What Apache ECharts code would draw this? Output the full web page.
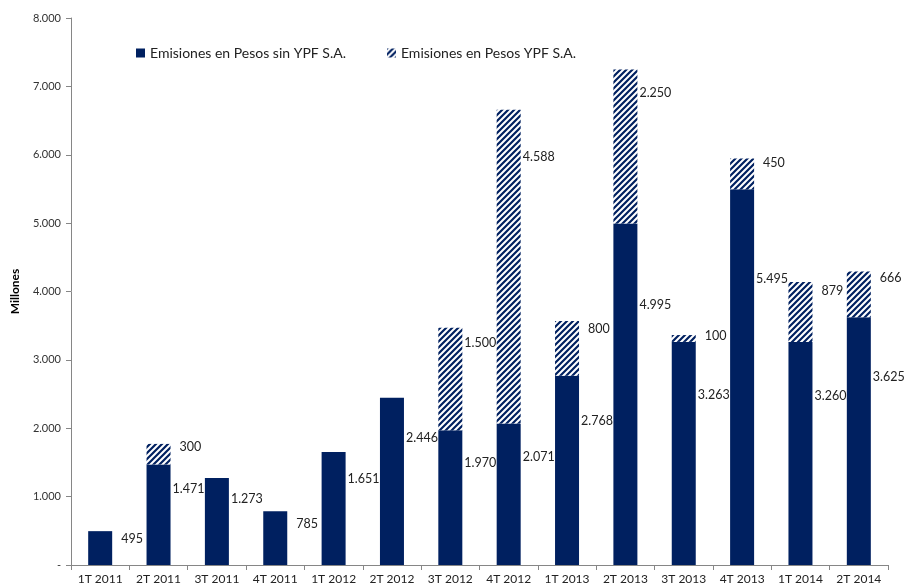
<!DOCTYPE html>
<html><head><meta charset="utf-8">
<script src="https://cdn.jsdelivr.net/npm/echarts@6/dist/echarts.min.js"></script>
<style>html,body{margin:0;padding:0;background:#fff}#c{width:917px;height:587px}</style>
</head><body><div id="c"></div>
<script>
var categories = ['1T 2011','2T 2011','3T 2011','4T 2011','1T 2012','2T 2012','3T 2012','4T 2012','1T 2013','2T 2013','3T 2013','4T 2013','1T 2014','2T 2014'];
var sinYPF = [495,1471,1273,785,1651,2446,1970,2071,2768,4995,3263,5495,3260,3625];
var conYPF = [null,300,null,null,null,null,1500,4588,800,2250,100,450,879,666];
var yTicks = [0,1000,2000,3000,4000,5000,6000,7000,8000];

var NAVY = '#002060';
function fmt(v){ if(v===0) return '-'; return String(Math.round(v)).replace(/\B(?=(\d{3})+(?!\d))/g,'.'); }

var tile = document.createElement('canvas');
tile.width = 6; tile.height = 6;
var g = tile.getContext('2d');
g.fillStyle = '#fff'; g.fillRect(0,0,6,6);
g.strokeStyle = NAVY; g.lineWidth = 2.2;
g.beginPath();
g.moveTo(-1,7); g.lineTo(7,-1);
g.moveTo(-4,4); g.lineTo(4,-4);
g.moveTo(2,10); g.lineTo(10,2);
g.stroke();

var font = 'Lato, "Liberation Sans", sans-serif';
var lbl = function(pos){
  return {show:true,position:pos,align:'left',verticalAlign:'middle',
    fontSize:12.5,color:'#222',fontFamily:font,overflow:'none',
    formatter:function(p){return p.value==null?'':fmt(p.value);}};
};
// short labels sit a little further from the bar, long labels close to it
function withOffsets(arr){
  return arr.map(function(v){
    return {value:v,label:{offset:[(v!=null && v>=1000)?2:9,0]}};
  });
}
var chart = echarts.init(document.getElementById('c'), null, {renderer:'canvas'});
chart.setOption({
  animation:false,
  backgroundColor:'#fff',
  textStyle:{fontFamily:font},
  grid:{left:71,right:29,top:18,bottom:22,containLabel:false},
  legend:{
    top:41,left:131,itemGap:41,itemWidth:9,itemHeight:9,
    textStyle:{fontSize:14,color:'#222',fontFamily:font},
    data:[{name:'Emisiones en Pesos sin YPF S.A.',icon:'rect'},{name:'Emisiones en Pesos YPF S.A.',icon:'rect'}]
  },
  xAxis:{
    type:'category',data:categories,boundaryGap:true,
    axisLine:{lineStyle:{color:'#868686',width:1}},
    axisTick:{show:true,alignWithLabel:false,length:5,lineStyle:{color:'#868686'}},
    axisLabel:{fontSize:12,color:'#222',margin:8,interval:0,fontFamily:font}
  },
  yAxis:{
    type:'value',min:0,max:8000,interval:1000,
    name:'Millones',nameLocation:'middle',nameGap:50,nameRotate:90,
    nameTextStyle:{fontWeight:'bold',fontSize:12,color:'#000',fontFamily:font},
    splitLine:{show:false},
    axisLine:{show:true,lineStyle:{color:'#868686',width:1}},
    axisTick:{show:true,inside:false,length:5,lineStyle:{color:'#868686'}},
    axisLabel:{fontSize:11,color:'#333',margin:10,formatter:function(v){return fmt(v);},fontFamily:font}
  },
  series:[
    {name:'Emisiones en Pesos sin YPF S.A.',type:'bar',stack:'t',barWidth:24,data:sinYPF,
     itemStyle:{color:NAVY},label:{show:false}},
    {name:'Emisiones en Pesos YPF S.A.',type:'bar',stack:'t',barWidth:24,data:conYPF,
     itemStyle:{color:{image:tile,repeat:'repeat'}},label:{show:false}},
    {name:'lbl1',type:'bar',stack:'L',barWidth:24,data:withOffsets(sinYPF),zlevel:1,z:5,silent:true,
     itemStyle:{color:'rgba(0,0,0,0)'},label:lbl(['100%','24%'])},
    {name:'lbl2',type:'bar',stack:'L',barWidth:24,barGap:'-100%',data:withOffsets(conYPF),zlevel:1,z:5,silent:true,
     itemStyle:{color:'rgba(0,0,0,0)'},label:lbl(['100%','15%'])}
  ]
});
</script></body></html>
